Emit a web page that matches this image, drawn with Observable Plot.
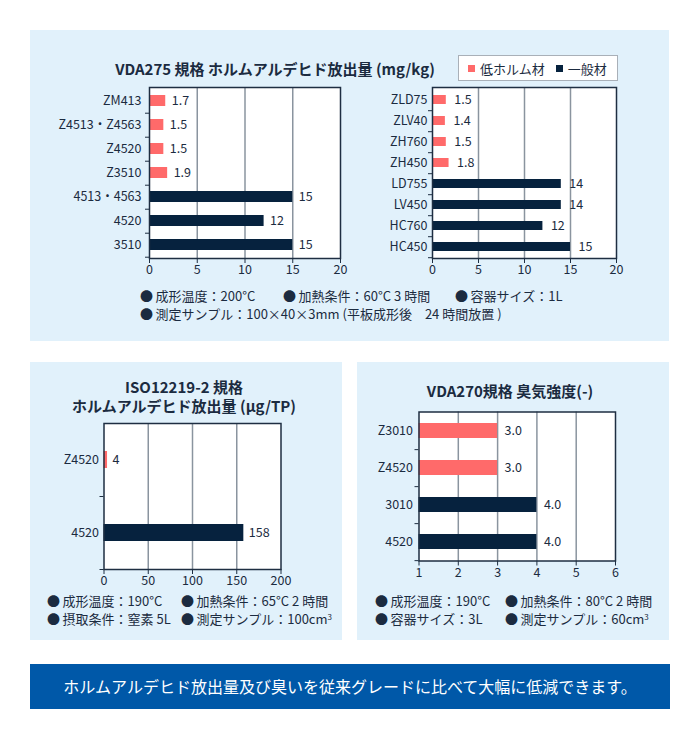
<!DOCTYPE html>
<html><head><meta charset="utf-8">
<script src="https://cdn.jsdelivr.net/npm/d3@7"></script>
<script src="https://cdn.jsdelivr.net/npm/@observablehq/plot@0.6"></script>
<style>
body{margin:0;background:#fff;font-family:"Noto Sans CJK JP","Noto Sans",sans-serif;color:#1b2b40}
#root{position:relative;width:700px;height:740px;overflow:hidden}
.panel{position:absolute;background:#e1f1fb}
.abs{position:absolute}
.title{position:absolute;font-weight:700;font-size:15px;white-space:nowrap;text-align:center;transform:translateX(-50%);line-height:17px;height:17px;color:#1b2b40}
.note{position:absolute;font-size:13px;white-space:nowrap;line-height:15px;height:15px;color:#1b2b40}
sup{font-size:8px;vertical-align:4px;line-height:0}
</style></head><body><div id="root"></div>
<script>
// ---- data ----
const seriesNames = ["低ホルム材", "一般材"];
const seriesColors = ["#ff6a6a", "#06223e"];

const vda275LeftCats = ["ZM413", "Z4513・Z4563", "Z4520", "Z3510", "4513・4563", "4520", "3510"];
const vda275LeftValues = [1.7, 1.5, 1.5, 1.9, 15, 12, 15];
const vda275LeftGroups = ["低ホルム材", "低ホルム材", "低ホルム材", "低ホルム材", "一般材", "一般材", "一般材"];

const vda275RightCats = ["ZLD75", "ZLV40", "ZH760", "ZH450", "LD755", "LV450", "HC760", "HC450"];
const vda275RightValues = [1.5, 1.4, 1.5, 1.8, 14, 14, 12, 15];
const vda275RightGroups = ["低ホルム材", "低ホルム材", "低ホルム材", "低ホルム材", "一般材", "一般材", "一般材", "一般材"];

const isoCats = ["Z4520", "4520"];
const isoValues = [4, 158];
const isoGroups = ["低ホルム材", "一般材"];

const vda270Cats = ["Z3010", "Z4520", "3010", "4520"];
const vda270Values = [3.0, 3.0, 4.0, 4.0];
const vda270Groups = ["低ホルム材", "低ホルム材", "一般材", "一般材"];

const vda275Ticks = [0, 5, 10, 15, 20];
const isoTicks = [0, 50, 100, 150, 200];
const vda270Ticks = [1, 2, 3, 4, 5, 6];

const titleTop = "VDA275 規格 ホルムアルデヒド放出量 (mg/kg)";
const titleIso = ["ISO12219-2 規格", "ホルムアルデヒド放出量 (µg/TP)"];
const titleVda270 = "VDA270規格 臭気強度(-)";
const banner = "ホルムアルデヒド放出量及び臭いを従来グレードに比べて大幅に低減できます。";

// ---- layout helpers ----
const root = document.getElementById("root");
function box(cls, css, html) {
  const d = document.createElement("div");
  d.className = cls;
  Object.assign(d.style, css);
  if (html != null) d.innerHTML = html;
  root.appendChild(d);
  return d;
}

box("panel", {left: "30px", top: "30px", width: "639px", height: "311px"});
box("panel", {left: "30px", top: "362px", width: "312px", height: "278px"});
box("panel", {left: "357px", top: "362px", width: "312px", height: "278px"});

const textColor = "#1b2b40";
const frameColor = "#1e2e42";
const gridColor = "#8a949f";

function barChart(o) {
  const data = o.cats.map((c, i) => ({cat: c, v: o.values[i], g: o.groups[i]}));
  const n = o.cats.length;
  const step = (o.height - o.mt - o.mb) / n;
  const p = o.pad;
  const svg = Plot.plot({
    width: o.width, height: o.height,
    marginLeft: o.ml, marginRight: o.mr, marginTop: o.mt, marginBottom: o.mb,
    style: {background: "transparent", fontFamily: '"Noto Sans CJK JP","Noto Sans",sans-serif', fontSize: "12.5px", color: textColor, overflow: "visible"},
    x: {domain: [o.ticks[0], o.ticks[o.ticks.length - 1]], label: null},
    y: {domain: o.cats, paddingInner: p, paddingOuter: p / 2, label: null},
    color: {domain: seriesNames, range: seriesColors},
    marks: [
      Plot.frame({fill: "white", stroke: null}),
      Plot.ruleX(o.ticks.slice(1, -1), {stroke: gridColor, strokeWidth: 1.5}),
      Plot.barX(data, {y: "cat", x1: o.ticks[0], x2: "v", fill: "g"}),
      Plot.text(data, {y: "cat", x: "v", text: d => o.fmt(d.v), textAnchor: "start", dx: o.dx, fill: textColor, fontSize: 12.5}),
      Plot.frame({stroke: frameColor, strokeWidth: 1.5}),
      Plot.axisY({tickSize: 0, tickPadding: o.labelPad, fontSize: 12.5}),
      Plot.axisY({tickSize: 4, dy: step / 2, text: null, stroke: frameColor}),
      Plot.axisX({ticks: o.ticks, tickSize: 5, tickPadding: 2, fontSize: 12.5, stroke: frameColor, tickFormat: d => String(d)})
    ]
  });
  const wrap = box("abs", {left: o.left + "px", top: o.top + "px"});
  wrap.appendChild(svg);
}

// VDA275 left
barChart({cats: vda275LeftCats, values: vda275LeftValues, groups: vda275LeftGroups, ticks: vda275Ticks,
  fmt: d => String(d), left: 40, top: 80, width: 320, height: 203, ml: 109, mr: 20, mt: 7, mb: 25,
  pad: 0.55, labelPad: 8, dx: 6});
// VDA275 right
barChart({cats: vda275RightCats, values: vda275RightValues, groups: vda275RightGroups, ticks: vda275Ticks,
  fmt: d => String(d), left: 360, top: 80, width: 276, height: 203, ml: 72, mr: 20, mt: 7, mb: 25,
  pad: 0.58, labelPad: 5, dx: 8});
// ISO12219-2
barChart({cats: isoCats, values: isoValues, groups: isoGroups, ticks: isoTicks,
  fmt: d => String(d), left: 40, top: 413, width: 262, height: 181, ml: 63.5, mr: 21.5, mt: 10, mb: 25,
  pad: 0.77, labelPad: 5, dx: 5});
// VDA270
barChart({cats: vda270Cats, values: vda270Values, groups: vda270Groups, ticks: vda270Ticks,
  fmt: d => d.toFixed(1), left: 360, top: 401, width: 275, height: 184.5, ml: 58.5, mr: 20, mt: 10.5, mb: 25,
  pad: 0.6, labelPad: 6, dx: 7});

// titles
box("title", {left: "275px", top: "60px"}, titleTop);
box("title", {left: "184px", top: "378px"}, titleIso[0]);
box("title", {left: "184px", top: "397px"}, titleIso[1]);
box("title", {left: "510px", top: "382px"}, titleVda270);

// legend
const leg = box("abs", {left: "458px", top: "55px", width: "149px", height: "24px", background: "#fff", border: "1px solid #a9b0b8",
  display: "flex", alignItems: "center", fontSize: "13px", color: textColor, paddingLeft: "9px", boxSizing: "content-box"});
seriesNames.forEach((name, i) => {
  const it = document.createElement("span");
  it.style.cssText = "display:flex;align-items:center;margin-right:11px;white-space:nowrap";
  it.innerHTML = `<span style="display:inline-block;width:7px;height:7px;background:${seriesColors[i]};margin-right:5px"></span>${name}`;
  leg.appendChild(it);
});

// notes
const B = "●&#8201;";
box("note", {left: "140px", top: "288px"}, B + "成形温度：200°C");
box("note", {left: "283px", top: "288px"}, B + "加熱条件：60°C 3 時間");
box("note", {left: "455px", top: "288px"}, B + "容器サイズ：1L");
box("note", {left: "140px", top: "306px"}, B + "測定サンプル：100×40×3mm (平板成形後　24 時間放置 )");

box("note", {left: "47px", top: "593px"}, B + "成形温度：190°C");
box("note", {left: "181px", top: "593px"}, B + "加熱条件：65°C 2 時間");
box("note", {left: "47px", top: "611px"}, B + "摂取条件：窒素 5L");
box("note", {left: "181px", top: "611px"}, B + "測定サンプル：100cm<sup>3</sup>");

box("note", {left: "375px", top: "593px"}, B + "成形温度：190°C");
box("note", {left: "505px", top: "593px"}, B + "加熱条件：80°C 2 時間");
box("note", {left: "375px", top: "611px"}, B + "容器サイズ：3L");
box("note", {left: "505px", top: "611px"}, B + "測定サンプル：60cm<sup>3</sup>");

// banner
box("abs", {left: "30px", top: "664px", width: "640px", height: "45px", background: "#0058a8", color: "#fff",
  fontSize: "16px", lineHeight: "45px", textAlign: "center", whiteSpace: "nowrap"}, banner);
</script>
</body></html>
